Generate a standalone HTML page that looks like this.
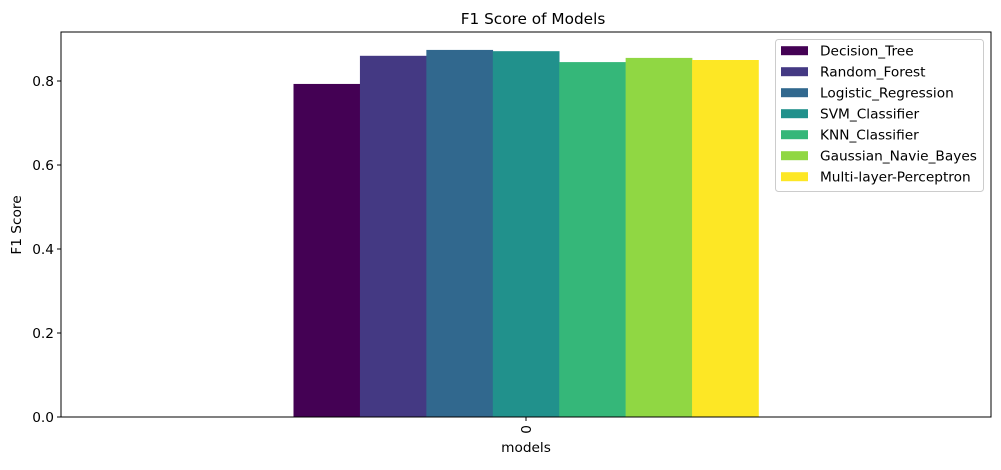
<!DOCTYPE html>
<html><head><meta charset="utf-8"><style>
body{margin:0;background:#fff;}
svg text{font-family:"DejaVu Sans","Liberation Sans",sans-serif;fill:#000;}
</style></head><body>
<svg id="chart" width="1001" height="465">
<rect width="1001" height="465" fill="#fff"/>
<text x="533" y="24" font-size="15.3" text-anchor="middle">F1 Score of Models</text>
<g id="bars"></g>
<g id="axes"></g>
<g id="legend"></g>
</svg>
<script>
const categories = ["Decision_Tree","Random_Forest","Logistic_Regression","SVM_Classifier","KNN_Classifier","Gaussian_Navie_Bayes","Multi-layer-Perceptron"];
const values = [0.793,0.860,0.874,0.871,0.845,0.855,0.850];
const yTicks = [0.0,0.2,0.4,0.6,0.8];
const xTickLabels = ["0"];
const colors = ["#440154","#443983","#31688e","#21918c","#35b779","#90d743","#fde725"];

const NS="http://www.w3.org/2000/svg";
const L=61,R=991,T=32,B=417;
const y=v=>B-v*420;
const x=v=>L+(v+0.5)*(R-L);
function mk(t,a,p){const e=document.createElementNS(NS,t);for(const k in a)e.setAttribute(k,a[k]);p.appendChild(e);return e;}
const bars=document.getElementById('bars'),axes=document.getElementById('axes'),leg=document.getElementById('legend');
const n=values.length,bw=0.5/n;
values.forEach((v,i)=>{
  const x0=x(-0.25+i*bw),x1=x(-0.25+(i+1)*bw);
  const r=mk('rect',{x:x0,y:y(v),width:x1-x0+0.3,height:B-y(v),fill:colors[i]},bars);
  
  
});
const frame=mk('rect',{x:L,y:T,width:R-L,height:B-T,fill:'none',stroke:'#000','stroke-width':1},axes);


yTicks.forEach(t=>{
  mk('line',{x1:L-4,x2:L,y1:y(t),y2:y(t),stroke:'#000'},axes);
  const tx=mk('text',{x:L-7,y:y(t)+5,'font-size':13.7,'text-anchor':'end'},axes);
  tx.textContent=t.toFixed(1);
  
  
});
xTickLabels.forEach((t,i)=>{
  const cx=x(i);
  mk('line',{x1:cx,x2:cx,y1:B,y2:B+4,stroke:'#000'},axes);
  const tx=mk('text',{x:cx+5,y:B+8,'font-size':13.7,'text-anchor':'end',transform:`rotate(-90 ${cx+5} ${B+8})`},axes);
  tx.textContent=t;
  
  
});
const xt=mk('text',{x:526,y:452,'font-size':13.7,'text-anchor':'middle'},axes);
xt.textContent='models';


const yt=mk('text',{x:21,y:225,'font-size':13.7,'text-anchor':'middle',transform:'rotate(-90 21 225)'},axes);
yt.textContent='F1 Score';


const lb=mk('rect',{x:775.5,y:39.5,width:208,height:152,rx:3,fill:'#fff','fill-opacity':0.8,stroke:'#ccc'},leg);


categories.forEach((c,i)=>{
  const cy=50.7+i*21;
  const g=mk('g',{},leg);
  
  
  mk('rect',{x:781,y:cy-4.5,width:27,height:9,fill:colors[i]},g);
  const tx=mk('text',{x:820,y:cy+5,'font-size':13.7},g);
  tx.textContent=c;
});
</script>
</body></html>
